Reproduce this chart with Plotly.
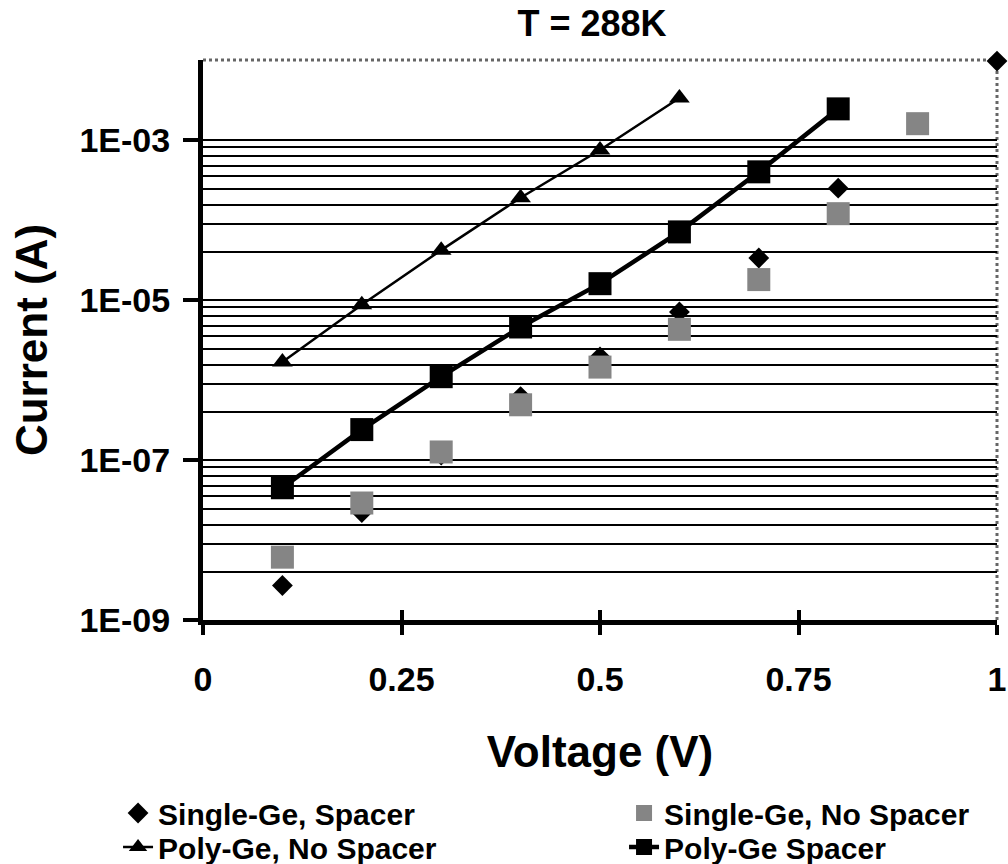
import plotly.graph_objects as go

# ---- data ----
v_single_sp = [0.1, 0.2, 0.3, 0.4, 0.5, 0.6, 0.7, 0.8, 1.0]
i_single_sp = [2.7e-9, 2.2e-8, 1.15e-7, 6.2e-7, 1.95e-6, 7.1e-6, 3.35e-5, 2.5e-4, 9.7e-3]

v_single_nosp = [0.1, 0.2, 0.3, 0.4, 0.5, 0.6, 0.7, 0.8, 0.9]
i_single_nosp = [6.1e-9, 2.9e-8, 1.26e-7, 4.9e-7, 1.45e-6, 4.3e-6, 1.8e-5, 1.2e-4, 1.6e-3]

v_poly_nosp = [0.1, 0.2, 0.3, 0.4, 0.5, 0.6]
i_poly_nosp = [1.68e-6, 8.7e-6, 4.2e-5, 1.9e-4, 7.5e-4, 3.35e-3]

v_poly_sp = [0.1, 0.2, 0.3, 0.4, 0.5, 0.6, 0.7, 0.8]
i_poly_sp = [4.5e-8, 2.4e-7, 1.1e-6, 4.6e-6, 1.6e-5, 7.1e-5, 4.0e-4, 2.45e-3]

x_tickvals = [0, 0.25, 0.5, 0.75, 1]
x_ticktext = ["0", "0.25", "0.5", "0.75", "1"]
y_tickvals = [1e-9, 1e-7, 1e-5, 1e-3]
y_ticktext = ["1E-09", "1E-07", "1E-05", "1E-03"]

# gridline layout inside each labelled interval (style)
grid_fracs = [0.82, 0.63, 0.47, 0.355, 0.245, 0.155, 0.089, 0.04]
minor_vals = [m * f for m in [1e-3, 1e-5, 1e-7] for f in grid_fracs]

FONT = "Liberation Sans, Arial, Helvetica, sans-serif"

fig = go.Figure()
fig.add_trace(go.Scatter(
    x=v_single_sp, y=i_single_sp, mode="markers", name="Single-Ge, Spacer",
    marker=dict(symbol="diamond", size=16, color="black"),
    cliponaxis=False, legend="legend", legendwidth=461))
fig.add_trace(go.Scatter(
    x=v_single_nosp, y=i_single_nosp, mode="markers", name="Single-Ge, No Spacer",
    marker=dict(symbol="square", size=23, color="#858585"),
    cliponaxis=False, legend="legend"))
fig.add_trace(go.Scatter(
    x=v_poly_nosp, y=i_poly_nosp, mode="lines+markers", name="Poly-Ge, No Spacer",
    line=dict(color="black", width=2.5),
    marker=dict(symbol="triangle-up", size=18, color="black"),
    cliponaxis=False, legend="legend2", legendwidth=461))
fig.add_trace(go.Scatter(
    x=v_poly_sp, y=i_poly_sp, mode="lines+markers", name="Poly-Ge Spacer",
    line=dict(color="black", width=4.5),
    marker=dict(symbol="square", size=23, color="black"),
    cliponaxis=False, legend="legend2"))

# invisible trace for the inside half of the x ticks
fig.add_trace(go.Scatter(x=[0, 1], y=[1e-9, 1e-9], xaxis="x2", mode="markers",
                         marker=dict(opacity=0), showlegend=False, hoverinfo="skip"))

legend_common = dict(orientation="h", x=-0.107, xanchor="left", yanchor="middle",
                     font=dict(size=30, family=FONT, weight="bold"),
                     bgcolor="rgba(0,0,0,0)")

fig.update_layout(
    width=1008, height=864,
    margin=dict(l=203, r=11, t=60, b=244, autoexpand=False),
    paper_bgcolor="white", plot_bgcolor="white",
    font=dict(family=FONT, color="black", weight="bold"),
    title=dict(text="T = 288K", x=592 / 1008, xref="container", xanchor="center",
               y=1 - 23 / 864, yref="container", yanchor="middle",
               font=dict(size=36, family=FONT, weight="bold")),
    xaxis=dict(range=[0, 1], tickvals=x_tickvals, ticktext=x_ticktext,
               showgrid=False, zeroline=False,
               showline=True, linecolor="black", linewidth=5,
               ticks="outside", ticklen=10, tickwidth=4, tickcolor="black",
               tickfont=dict(size=34, family=FONT, weight="bold"),
               ticklabelstandoff=15,
               title=dict(text="Voltage (V)", standoff=41,
                          font=dict(size=44, family=FONT, weight="bold"))),
    xaxis2=dict(range=[0, 1], overlaying="x", anchor="y", side="bottom",
                tickvals=x_tickvals[1:], showticklabels=False, showgrid=False,
                zeroline=False, showline=False,
                ticks="inside", ticklen=10, tickwidth=4, tickcolor="black"),
    yaxis=dict(type="log", range=[-9, -2], tickvals=y_tickvals, ticktext=y_ticktext,
               showgrid=True, gridcolor="black", gridwidth=2,
               zeroline=False,
               showline=True, linecolor="black", linewidth=5,
               ticks="outside", ticklen=15, tickwidth=4, tickcolor="black",
               tickfont=dict(size=34, family=FONT, weight="bold"),
               ticklabelstandoff=6,
               minor=dict(tickvals=minor_vals, showgrid=True, gridcolor="black",
                          gridwidth=2, ticks=""),
               title=dict(text="Current (A)", standoff=20,
                          font=dict(size=44, family=FONT, weight="bold"))),
    legend=dict(y=(620 - 813) / 560, **legend_common),
    legend2=dict(y=(620 - 847) / 560, **legend_common),
    shapes=[
        dict(type="line", xref="x domain", yref="y domain", x0=0, x1=1, y0=1, y1=1,
             layer="below", line=dict(color="#666666", width=3, dash="dot")),
        dict(type="line", xref="x domain", yref="y domain", x0=1, x1=1, y0=0, y1=1,
             layer="below", line=dict(color="#666666", width=3, dash="dot")),
    ],
)

# remove the browser's default 8px body margin so the figure fills the window
fig.write_html("out.html", config={"displayModeBar": False},
               post_script="document.body.style.margin='0';")
